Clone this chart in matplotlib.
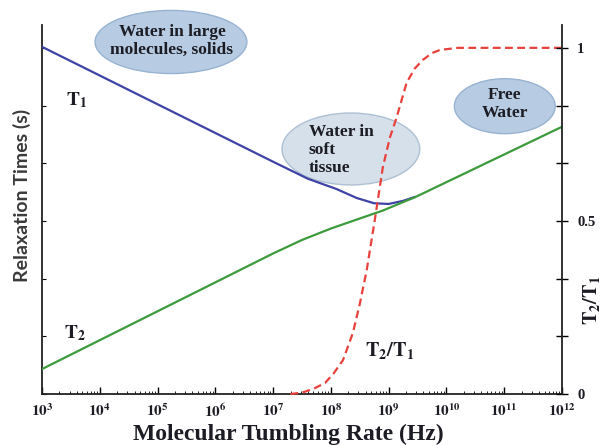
import numpy as np
import matplotlib
matplotlib.use("Agg")
import matplotlib.pyplot as plt
from matplotlib.patches import Ellipse

plt.rcParams['mathtext.fontset'] = 'stix'

# log10 of tumbling rate (Hz) and curve values (scaled 0..1)
t1_logf = [3, 5, 7, 7.6, 8.1, 8.45, 8.75, 9.0, 9.25, 9.45]
t1_vals = [1.003, 0.837, 0.671, 0.622, 0.592, 0.566, 0.551, 0.549, 0.558, 0.569]

t2_logf = [3, 5, 7, 7.5, 8.0, 8.5, 8.9, 9.2, 9.45, 10, 11, 12]
t2_vals = [0.072, 0.239, 0.406, 0.445, 0.478, 0.507, 0.530, 0.551, 0.568, 0.612, 0.692, 0.772]

ratio_logf = [7.3, 7.5, 7.7, 7.9, 8.05, 8.21, 8.38, 8.5, 8.62, 8.76, 8.9, 9.02,
              9.14, 9.31, 9.45, 9.59, 9.75, 9.89, 10.2, 12]
ratio_vals = [0.0, 0.004, 0.015, 0.032, 0.06, 0.098, 0.176, 0.26, 0.358, 0.503, 0.656, 0.74,
              0.80, 0.899, 0.94, 0.965, 0.985, 0.994, 1.0, 1.0]

decades = list(range(3, 13))
right_ticks = [0, 1 / 6, 2 / 6, 0.5, 4 / 6, 5 / 6, 1]
right_labels = ['0', '', '', '0.5', '', '', '1']

serif = 'Liberation Serif'
ink = '#1c1c24'

fig = plt.figure(figsize=(6.07, 4.46), dpi=100)
ax = fig.add_axes([42 / 607, 1 - 394 / 446, 520 / 607, 369 / 446])
ax.set_xscale('log')
ax.set_xlim(1e3, 1e12)
ax.set_ylim(0, 1.066)

ax.plot(10.0 ** np.array(t1_logf), t1_vals, color='#3f43a6', lw=1.6, zorder=3)
ax.plot(10.0 ** np.array(t2_logf), t2_vals, color='#3d9a3d', lw=1.6, zorder=4)
ax.plot(10.0 ** np.array(ratio_logf), ratio_vals, color='#e8413c', lw=1.6,
        ls=(0, (3.5, 2)), zorder=5, clip_on=False)

# spines / ticks
for s in ['top', 'right']:
    ax.spines[s].set_visible(False)
ax.spines['left'].set_color('#222222')
ax.spines['bottom'].set_color('#222222')
ax.spines['left'].set_linewidth(1.3)
ax.spines['bottom'].set_linewidth(1.3)
ax.set_xticks([10.0 ** d for d in decades])
ax.set_xticklabels([r'$\mathbf{10^{%d}}$' % d for d in decades], fontsize=11, color=ink)
ax.tick_params(axis='x', which='major', direction='in', length=5, width=1, pad=6)
ax.tick_params(axis='x', which='minor', direction='in', length=2, width=0.6)
ax.set_yticks(right_ticks)
ax.set_yticklabels([])
ax.tick_params(axis='y', direction='in', length=3, width=0.8)

ax2 = ax.twinx()
ax2.set_ylim(0, 1.066)
for s in ['top', 'left', 'bottom']:
    ax2.spines[s].set_visible(False)
ax2.spines['right'].set_color('#222222')
ax2.spines['right'].set_linewidth(1.3)
ax2.set_yticks(right_ticks)
ax2.set_yticklabels(right_labels, fontsize=10.5, fontfamily=serif, fontweight='bold', color=ink)
ax2.tick_params(axis='y', direction='inout', length=8, width=1, pad=7)

# region ellipses
blobs = [
    ((0.248, 0.954), 0.292, 0.171, '#b7cce3', '#98b3d1'),
    ((0.594, 0.664), 0.265, 0.195, '#d6e0ea', '#aec0d3'),
    ((0.890, 0.780), 0.194, 0.149, '#b7cce3', '#98b3d1'),
]
for (cx, cy), w, h, fc, ec in blobs:
    ax.add_patch(Ellipse((cx, cy), w, h, transform=ax.transAxes, facecolor=fc,
                         edgecolor=ec, lw=1.0, zorder=2, clip_on=False))

blob_font = dict(fontsize=12.5, fontfamily=serif, fontweight='bold', color=ink,
                 linespacing=1.15, zorder=6)
ax.text(0.25, 0.957, 'Water in large\nmolecules, solids', transform=ax.transAxes,
        ha='center', va='center', **blob_font)
ax.text(0.513, 0.661, 'Water in\nsoft\ntissue', transform=ax.transAxes,
        ha='left', va='center', **blob_font)
ax.text(0.890, 0.786, 'Free\nWater', transform=ax.transAxes,
        ha='center', va='center', **blob_font)

ax.text(0.067, 0.797, r'$\mathbf{T_1}$', transform=ax.transAxes, ha='center',
        va='center', fontsize=14, color=ink)
ax.text(0.063, 0.165, r'$\mathbf{T_2}$', transform=ax.transAxes, ha='center',
        va='center', fontsize=14, color=ink)
ax.text(0.669, 0.119, r'$\mathbf{T_2/T_1}$', transform=ax.transAxes, ha='center',
        va='center', fontsize=14.5, color=ink)

fig.text(22 / 607, 1 - 195 / 446, 'Relaxation Times (s)', rotation=90, ha='center',
         va='center', fontsize=14, fontfamily='Lato', fontweight='bold',
         color='#3a3a3a')
fig.text(288 / 607, 1 - 434 / 446, 'Molecular Tumbling Rate (Hz)', ha='center',
         va='center', fontsize=17, fontfamily=serif, fontweight='bold', color=ink)
fig.text(591 / 607, 1 - 300 / 446, r'$\mathbf{T_2/T_1}$', rotation=90, ha='center',
         va='center', fontsize=14.5, color=ink)

fig.savefig('out.png', dpi=100, facecolor='white')
